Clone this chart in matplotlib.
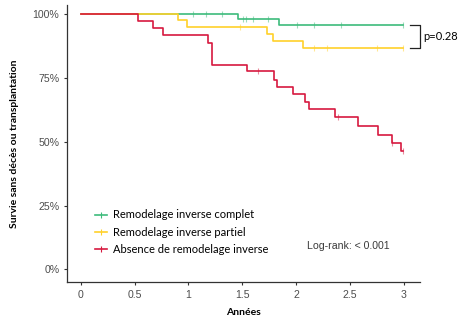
import matplotlib
matplotlib.use("Agg")
import matplotlib.pyplot as plt
from matplotlib.lines import Line2D

# ---- data ----
labels = ["Remodelage inverse complet", "Remodelage inverse partiel", "Absence de remodelage inverse"]
colors = ["#3DBB7B", "#FFD12A", "#D7193F"]

green_t = [0, 1.462, 1.842, 2.993]
green_s = [100, 98.2, 95.9, 95.9]
green_cens_t = [1.045, 1.162, 1.308, 1.503, 1.531, 1.596, 1.74, 2.004, 2.167, 2.415, 2.993]

yellow_t = [0, 0.905, 0.983, 1.725, 1.787, 2.06, 2.993]
yellow_s = [100, 97.8, 95.1, 92.3, 89.7, 86.7, 86.7]
yellow_cens_t = [1.478, 2.167, 2.288, 2.751, 2.993]

red_t = [0, 0.53, 0.667, 0.76, 1.185, 1.215, 1.54, 1.79, 1.825, 1.967, 2.083, 2.12,
         2.36, 2.575, 2.76, 2.885, 2.97, 2.993]
red_s = [100, 97.4, 94.6, 91.8, 88.9, 80.0, 77.8, 74.4, 71.6, 68.6, 65.7, 62.8,
         59.6, 56.4, 52.7, 49.7, 46.3, 46.3]
red_cens_t = [1.65, 2.385, 2.89, 2.99]

xticks = [0, 0.5, 1, 1.5, 2, 2.5, 3]
xticklabels = ["0", "0.5", "1", "1.5", "2", "2.5", "3"]
yticks = [0, 25, 50, 75, 100]
yticklabels = ["0%", "25%", "50%", "75%", "100%"]

def step_value(ts, ss, t):
    v = ss[0]
    for ti, si in zip(ts, ss):
        if ti <= t:
            v = si
    return v

fig = plt.figure(figsize=(4.68, 3.2), dpi=100)
ax = fig.add_axes([0.143, 0.119, 0.754, 0.865])

series = [(green_t, green_s, green_cens_t), (yellow_t, yellow_s, yellow_cens_t), (red_t, red_s, red_cens_t)]
for (ts, ss, cs), col, z in zip(series, colors, [2, 3, 4]):
    ax.step(ts, ss, where="post", color=col, lw=1.2, zorder=z)
    ax.plot(cs, [step_value(ts, ss, c) for c in cs], ls="none", marker="|",
            ms=5, mew=0.8, color=col, alpha=0.5, zorder=z)

ax.set_xlim(-0.127, 3.147)
ax.set_ylim(-4.9, 103.6)
ax.set_xticks(xticks)
ax.set_xticklabels(xticklabels)
ax.set_yticks(yticks)
ax.set_yticklabels(yticklabels)
for s in ["top", "right"]:
    ax.spines[s].set_visible(False)
for s in ["left", "bottom"]:
    ax.spines[s].set_color("#333333")
    ax.spines[s].set_linewidth(0.9)
ax.tick_params(axis="both", length=2.5, width=0.8, color="#333333",
               labelsize=7.6, labelcolor="#4D4D4D", pad=3)
for lab in ax.get_xticklabels() + ax.get_yticklabels():
    lab.set_family("Liberation Sans")

ax.set_xlabel("Années", fontsize=7.5, fontweight="bold", family="Lato", labelpad=6)
ax.set_ylabel("Survie sans décès ou transplantation", fontsize=7.5, fontweight="bold",
              family="Lato", labelpad=10)

handles = [Line2D([0], [0], color=c, lw=1.2, marker="|", ms=5, mew=0.8) for c in colors]
leg = ax.legend(handles, labels, loc="center left", bbox_to_anchor=(0.05, 0.18),
                frameon=False, handlelength=1.1, handletextpad=0.6, labelspacing=0.55,
                prop={"family": "Lato", "size": 8.0})

ax.text(2.10, 9.3, "Log-rank: < 0.001", fontsize=7.6, family="Liberation Sans",
        color="#3A3A3A", va="center", ha="left")

# bracket + p value
ax.plot([3.06, 3.145, 3.145, 3.06], [95.9, 95.9, 86.7, 86.7], color="#222222", lw=0.9,
        clip_on=False)
ax.text(3.18, 91.3, "p=0.28", fontsize=8, family="Lato", va="center", ha="left",
        clip_on=False)

fig.savefig("out.png", dpi=100)
